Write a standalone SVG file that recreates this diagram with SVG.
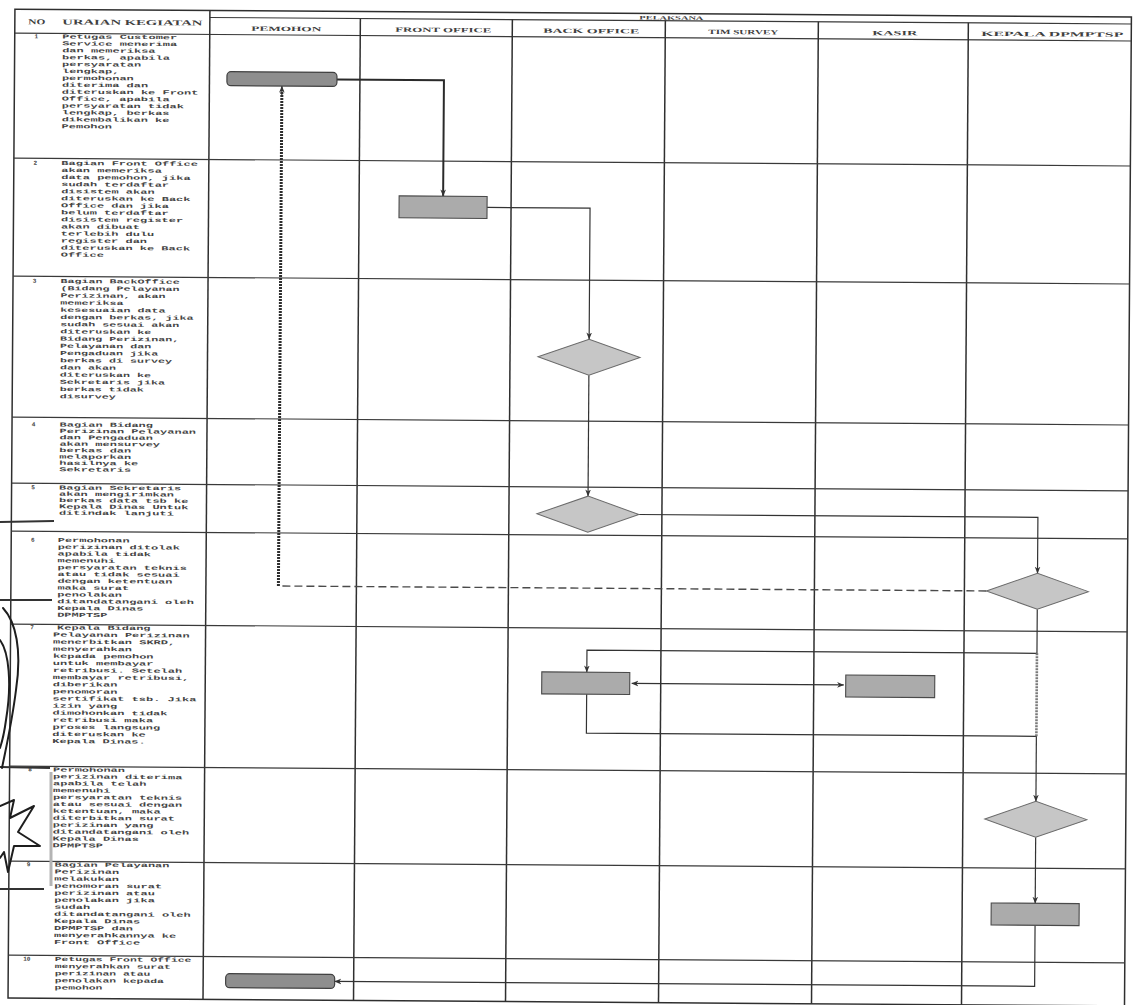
<svg xmlns="http://www.w3.org/2000/svg" width="1133" height="1005" viewBox="0 0 1133 1005">
  <style>
    .grid { stroke: #3a3a3a; stroke-width: 1.1; fill: none; }
    .col { stroke: #2f2f2f; stroke-width: 1.5; }
    .hd { font-family: "Liberation Serif", serif; font-weight: bold; font-size: 6.5px; fill: #404040; }
    .num { font-family: "Liberation Mono", monospace; font-weight: bold; font-size: 6px; fill: #444; text-anchor: middle; }
    .desc { font-family: "Liberation Mono", monospace; font-weight: bold; font-size: 6px; fill: #444; }
    .term { fill: #8e8e8e; stroke: #404040; stroke-width: 1.2; }
    .proc { fill: #ababab; stroke: #4a4a4a; stroke-width: 1.1; }
    .dec { fill: #c6c6c6; stroke: #6a6a6a; stroke-width: 1; }
    .flow { fill: none; stroke: #333; stroke-width: 1.2; }
    .flow-heavy { fill: none; stroke: #2a2a2a; stroke-width: 2; }
    .dash { fill: none; stroke: #4a4a4a; stroke-width: 1.4; stroke-dasharray: 8 4; }
    .dots { fill: none; stroke: #2e2e2e; stroke-width: 3; stroke-dasharray: 2 1; }
    .dots-grey { fill: none; stroke: #7a7a7a; stroke-width: 2.6; stroke-dasharray: 2 1; }
    .ink { fill: none; stroke: #1e1e1e; stroke-width: 2; stroke-linecap: round; stroke-linejoin: round; }
    .smudge { stroke: #333; stroke-width: 2; }
  </style>
  <defs>
    <marker id="ah" viewBox="0 0 10 10" refX="9.5" refY="5" markerWidth="7" markerHeight="7" markerUnits="userSpaceOnUse" orient="auto-start-reverse">
      <path d="M0,1 L10,5 L0,9 L3,5 Z" fill="#333"/>
    </marker>
  </defs>

  <rect width="1133" height="1005" fill="#ffffff"/>

  <!-- the whole sheet sits slightly skewed on the page -->
  <g transform="rotate(0.4 566 502)">

    <!-- table grid -->
    <g id="table">
      <rect class="grid col" x="11.5" y="13" width="1116.5" height="989"/>
      <line class="grid" x1="206.5" y1="20" x2="1128" y2="20"/>
      <line class="grid" x1="11.5" y1="37" x2="1128" y2="37"/>
      <line class="grid col" x1="206.5" y1="13" x2="206.5" y2="1002"/>
      <line class="grid col" x1="357" y1="20" x2="357" y2="1002"/>
      <line class="grid col" x1="509" y1="20" x2="509" y2="1002"/>
      <line class="grid col" x1="662" y1="20" x2="662" y2="1002"/>
      <line class="grid col" x1="815" y1="20" x2="815" y2="1002"/>
      <line class="grid col" x1="965" y1="20" x2="965" y2="1002"/>
      <line class="grid" x1="11.5" y1="162" x2="1128" y2="162"/>
      <line class="grid" x1="11.5" y1="280" x2="1128" y2="280"/>
      <line class="grid" x1="11.5" y1="421" x2="1128" y2="421"/>
      <line class="grid" x1="11.5" y1="487" x2="1128" y2="487"/>
      <line class="grid" x1="11.5" y1="535" x2="1128" y2="535"/>
      <line class="grid" x1="11.5" y1="628" x2="1128" y2="628"/>
      <line class="grid" x1="11.5" y1="770" x2="1128" y2="770"/>
      <line class="grid" x1="11.5" y1="865" x2="1128" y2="865"/>
      <line class="grid" x1="11.5" y1="959" x2="1128" y2="959"/>
    </g>

    <!-- header labels -->
    <g id="header">
      <text class="hd" x="25" y="28" textLength="17" lengthAdjust="spacingAndGlyphs" style="font-size:7.5px">NO</text>
      <text class="hd" x="59" y="28" textLength="140" lengthAdjust="spacingAndGlyphs" style="font-size:7.5px">URAIAN KEGIATAN</text>
      <text class="hd" x="636" y="19" textLength="64" lengthAdjust="spacingAndGlyphs" style="font-size:5.5px">PELAKSANA</text>
      <text class="hd" x="248" y="33" textLength="70" lengthAdjust="spacingAndGlyphs">PEMOHON</text>
      <text class="hd" x="392" y="33" textLength="96" lengthAdjust="spacingAndGlyphs">FRONT OFFICE</text>
      <text class="hd" x="540" y="33" textLength="96" lengthAdjust="spacingAndGlyphs">BACK OFFICE</text>
      <text class="hd" x="705" y="33" textLength="70" lengthAdjust="spacingAndGlyphs">TIM SURVEY</text>
      <text class="hd" x="869" y="33" textLength="45" lengthAdjust="spacingAndGlyphs">KASIR</text>
      <text class="hd" x="978" y="33" textLength="142" lengthAdjust="spacingAndGlyphs">KEPALA DPMPTSP</text>
    </g>

    <!-- activity descriptions -->
    <g id="step-1">
      <text class="num" x="33" y="42">1</text>
      <g transform="translate(59 42) scale(2 1)">
        <text class="desc"><tspan x="0" y="0">Petugas Customer</tspan><tspan x="0" dy="6.9">Service menerima</tspan><tspan x="0" dy="6.9">dan memeriksa</tspan><tspan x="0" dy="6.9">berkas, apabila</tspan><tspan x="0" dy="6.9">persyaratan</tspan><tspan x="0" dy="6.9">lengkap,</tspan><tspan x="0" dy="6.9">permohonan</tspan><tspan x="0" dy="6.9">diterima dan</tspan><tspan x="0" dy="6.9">diteruskan ke Front</tspan><tspan x="0" dy="6.9">Office, apabila</tspan><tspan x="0" dy="6.9">persyaratan tidak</tspan><tspan x="0" dy="6.9">lengkap, berkas</tspan><tspan x="0" dy="6.9">dikembalikan ke</tspan><tspan x="0" dy="6.9">Pemohon</tspan></text>
      </g>
    </g>
    <g id="step-2">
      <text class="num" x="33" y="168.5">2</text>
      <g transform="translate(59 168.5) scale(2 1)">
        <text class="desc"><tspan x="0" y="0">Bagian Front Office</tspan><tspan x="0" dy="7.05">akan memeriksa</tspan><tspan x="0" dy="7.05">data pemohon, jika</tspan><tspan x="0" dy="7.05">sudah terdaftar</tspan><tspan x="0" dy="7.05">disistem akan</tspan><tspan x="0" dy="7.05">diteruskan ke Back</tspan><tspan x="0" dy="7.05">Office dan jika</tspan><tspan x="0" dy="7.05">belum terdaftar</tspan><tspan x="0" dy="7.05">disistem register</tspan><tspan x="0" dy="7.05">akan dibuat</tspan><tspan x="0" dy="7.05">terlebih dulu</tspan><tspan x="0" dy="7.05">register dan</tspan><tspan x="0" dy="7.05">diteruskan ke Back</tspan><tspan x="0" dy="7.05">Office</tspan></text>
      </g>
    </g>
    <g id="step-3">
      <text class="num" x="33" y="286.5">3</text>
      <g transform="translate(59 286.5) scale(1.95 1)">
        <text class="desc"><tspan x="0" y="0">Bagian BackOffice</tspan><tspan x="0" dy="7.2">(Bidang Pelayanan</tspan><tspan x="0" dy="7.2">Perizinan, akan</tspan><tspan x="0" dy="7.2">memeriksa</tspan><tspan x="0" dy="7.2">kesesuaian data</tspan><tspan x="0" dy="7.2">dengan berkas, jika</tspan><tspan x="0" dy="7.2">sudah sesuai akan</tspan><tspan x="0" dy="7.2">diteruskan ke</tspan><tspan x="0" dy="7.2">Bidang Perizinan,</tspan><tspan x="0" dy="7.2">Pelayanan dan</tspan><tspan x="0" dy="7.2">Pengaduan jika</tspan><tspan x="0" dy="7.2">berkas di survey</tspan><tspan x="0" dy="7.2">dan akan</tspan><tspan x="0" dy="7.2">diteruskan ke</tspan><tspan x="0" dy="7.2">Sekretaris jika</tspan><tspan x="0" dy="7.2">berkas tidak</tspan><tspan x="0" dy="7.2">disurvey</tspan></text>
      </g>
    </g>
    <g id="step-4">
      <text class="num" x="33" y="430">4</text>
      <g transform="translate(59 430) scale(2 1)">
        <text class="desc"><tspan x="0" y="0">Bagian Bidang</tspan><tspan x="0" dy="6.4">Perizinan Pelayanan</tspan><tspan x="0" dy="6.4">dan Pengaduan</tspan><tspan x="0" dy="6.4">akan mensurvey</tspan><tspan x="0" dy="6.4">berkas dan</tspan><tspan x="0" dy="6.4">melaporkan</tspan><tspan x="0" dy="6.4">hasilnya ke</tspan><tspan x="0" dy="6.4">Sekretaris</tspan></text>
      </g>
    </g>
    <g id="step-5">
      <text class="num" x="33" y="493">5</text>
      <g transform="translate(59 493) scale(2 1)">
        <text class="desc"><tspan x="0" y="0">Bagian Sekretaris</tspan><tspan x="0" dy="6.3">akan mengirimkan</tspan><tspan x="0" dy="6.3">berkas data tsb ke</tspan><tspan x="0" dy="6.3">Kepala Dinas Untuk</tspan><tspan x="0" dy="6.3">ditindak lanjuti</tspan></text>
      </g>
    </g>
    <g id="step-6">
      <text class="num" x="33" y="545.5">6</text>
      <g transform="translate(58 545.5) scale(2 1)">
        <text class="desc"><tspan x="0" y="0">Permohonan</tspan><tspan x="0" dy="6.8">perizinan ditolak</tspan><tspan x="0" dy="6.8">apabila tidak</tspan><tspan x="0" dy="6.8">memenuhi</tspan><tspan x="0" dy="6.8">persyaratan teknis</tspan><tspan x="0" dy="6.8">atau tidak sesuai</tspan><tspan x="0" dy="6.8">dengan ketentuan</tspan><tspan x="0" dy="6.8">maka surat</tspan><tspan x="0" dy="6.8">penolakan</tspan><tspan x="0" dy="6.8">ditandatangani oleh</tspan><tspan x="0" dy="6.8">Kepala Dinas</tspan><tspan x="0" dy="6.8">DPMPTSP</tspan></text>
      </g>
    </g>
    <g id="step-7">
      <text class="num" x="33" y="633">7</text>
      <g transform="translate(54 633) scale(2 1)">
        <text class="desc"><tspan x="2" y="0">Kepala Bidang</tspan><tspan x="0" dy="7.1">Pelayanan Perizinan</tspan><tspan x="0" dy="7.1">menerbitkan SKRD,</tspan><tspan x="0" dy="7.1">menyerahkan</tspan><tspan x="0" dy="7.1">kepada pemohon</tspan><tspan x="0" dy="7.1">untuk membayar</tspan><tspan x="0" dy="7.1">retribusi. Setelah</tspan><tspan x="0" dy="7.1">membayar retribusi,</tspan><tspan x="0" dy="7.1">diberikan</tspan><tspan x="0" dy="7.1">penomoran</tspan><tspan x="0" dy="7.1">sertifikat tsb. Jika</tspan><tspan x="0" dy="7.1">izin yang</tspan><tspan x="0" dy="7.1">dimohonkan tidak</tspan><tspan x="0" dy="7.1">retribusi maka</tspan><tspan x="0" dy="7.1">proses langsung</tspan><tspan x="0" dy="7.1">diteruskan ke</tspan><tspan x="0" dy="7.1">Kepala Dinas.</tspan></text>
      </g>
    </g>
    <g id="step-8">
      <text class="num" x="32" y="775">8</text>
      <g transform="translate(55 775) scale(2 1)">
        <text class="desc"><tspan x="0" y="0">Permohonan</tspan><tspan x="0" dy="6.9">perizinan diterima</tspan><tspan x="0" dy="6.9">apabila telah</tspan><tspan x="0" dy="6.9">memenuhi</tspan><tspan x="0" dy="6.9">persyaratan teknis</tspan><tspan x="0" dy="6.9">atau sesuai dengan</tspan><tspan x="0" dy="6.9">ketentuan, maka</tspan><tspan x="0" dy="6.9">diterbitkan surat</tspan><tspan x="0" dy="6.9">perizinan yang</tspan><tspan x="0" dy="6.9">ditandatangani oleh</tspan><tspan x="0" dy="6.9">Kepala Dinas</tspan><tspan x="0" dy="6.9">DPMPTSP</tspan></text>
      </g>
    </g>
    <g id="step-9">
      <text class="num" x="31" y="870">9</text>
      <g transform="translate(57 870) scale(2 1)">
        <text class="desc"><tspan x="0" y="0">Bagian Pelayanan</tspan><tspan x="0" dy="7.05">Perizinan</tspan><tspan x="0" dy="7.05">melakukan</tspan><tspan x="0" dy="7.05">penomoran surat</tspan><tspan x="0" dy="7.05">perizinan atau</tspan><tspan x="0" dy="7.05">penolakan jika</tspan><tspan x="0" dy="7.05">sudah</tspan><tspan x="0" dy="7.05">ditandatangani oleh</tspan><tspan x="0" dy="7.05">Kepala Dinas</tspan><tspan x="0" dy="7.05">DPMPTSP dan</tspan><tspan x="0" dy="7.05">menyerahkannya ke</tspan><tspan x="0" dy="7.05">Front Office</tspan></text>
      </g>
    </g>
    <g id="step-10">
      <text class="num" x="30" y="964.5">10</text>
      <g transform="translate(58 964.5) scale(1.9 1)">
        <text class="desc"><tspan x="0" y="0">Petugas Front Office</tspan><tspan x="0" dy="7.1">menyerahkan surat</tspan><tspan x="0" dy="7.1">perizinan atau</tspan><tspan x="0" dy="7.1">penolakan kepada</tspan><tspan x="0" dy="7.1">pemohon</tspan></text>
      </g>
    </g>

    <!-- connectors -->
    <g id="connectors">
      <polyline class="flow-heavy" points="334,81 441,81 441,197" marker-end="url(#ah)"/>
      <polyline class="flow" points="485,208 588,208 588,339" marker-end="url(#ah)"/>
      <line class="flow" x1="588" y1="375" x2="588" y2="496" marker-end="url(#ah)"/>
      <polyline class="flow" points="639,514 1038,514 1038,570" marker-end="url(#ah)"/>
      <line class="dash" x1="987" y1="588" x2="279" y2="588"/>
      <line class="dots" x1="279" y1="588" x2="279" y2="92"/>
      <line class="flow" x1="279" y1="98" x2="279" y2="88" marker-end="url(#ah)"/>
      <polyline class="flow" points="1038,606 1038,650 588,650 588,672" marker-end="url(#ah)"/>
      <line class="flow" x1="633" y1="683" x2="845" y2="683" marker-start="url(#ah)" marker-end="url(#ah)"/>
      <polyline class="flow" points="588,694 588,733 1038,733"/>
      <line class="dots-grey" x1="1038" y1="650" x2="1038" y2="733"/>
      <line class="flow" x1="1038" y1="733" x2="1038" y2="798" marker-end="url(#ah)"/>
      <line class="flow" x1="1038" y1="834" x2="1038" y2="900" marker-end="url(#ah)"/>
      <polyline class="flow" points="1038,922 1038,983 338,983" marker-end="url(#ah)"/>
    </g>

    <!-- flow nodes -->
    <g id="pemohon-start"><rect class="term" x="224" y="74" width="110" height="14" rx="4"/></g>
    <g id="front-office-check"><rect class="proc" x="397" y="197" width="88" height="22"/></g>
    <g id="back-office-verify"><polygon class="dec" points="537,357 588,339 639,357 588,375"/></g>
    <g id="sekretaris-forward"><polygon class="dec" points="537,514 588,496 639,514 588,532"/></g>
    <g id="kepala-decision"><polygon class="dec" points="987,588 1038,570 1089,588 1038,606"/></g>
    <g id="back-office-skrd"><rect class="proc" x="543" y="672" width="88" height="22"/></g>
    <g id="kasir-payment"><rect class="proc" x="847" y="673" width="89" height="22"/></g>
    <g id="kepala-approval"><polygon class="dec" points="987,816 1038,798 1089,816 1038,834"/></g>
    <g id="kepala-sign"><rect class="proc" x="994" y="900" width="88" height="22"/></g>
    <g id="pemohon-end"><rect class="term" x="229" y="976" width="109" height="14" rx="4"/></g>
  </g>

  <!-- hand signature and stamp traces along the left margin -->
  <g id="margin-marks">
    <line class="smudge" x1="0" y1="522" x2="54" y2="521"/>
    <line class="smudge" x1="0" y1="600" x2="52" y2="600"/>
    <line class="smudge" x1="0" y1="767" x2="50" y2="768"/>
    <line class="smudge" x1="0" y1="889" x2="44" y2="889"/>
    <line x1="51" y1="772" x2="51" y2="886" stroke="#b4b4b4" stroke-width="3"/>
    <path class="ink" d="M3,608 C16,622 22,650 16,690 C12,722 6,748 2,768"/>
    <path class="ink" d="M0,640 C9,652 12,684 6,720 C4,735 2,742 0,748"/>
    <path class="ink" d="M0,806 L14,800 L10,818 L34,806 L18,832 L40,846 L14,846 L8,872 L4,852 L0,858"/>
  </g>
</svg>
